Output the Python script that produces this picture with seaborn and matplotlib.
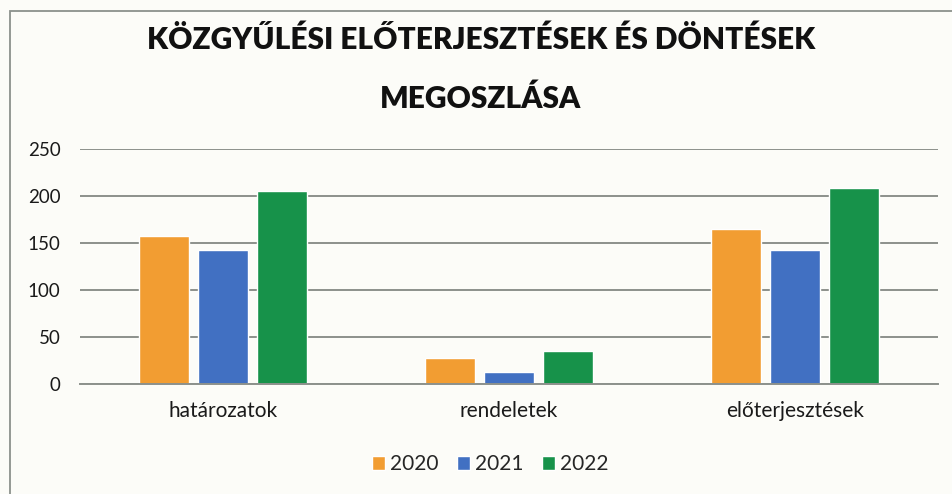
import pandas as pd
import seaborn as sns
import matplotlib.pyplot as plt
from matplotlib.patches import Rectangle

# Values
categories = ["határozatok", "rendeletek", "előterjesztések"]
years = ["2020", "2021", "2022"]
values_2020 = [157, 28, 165]
values_2021 = [143, 13, 143]
values_2022 = [205, 35, 208]

df = pd.DataFrame({
    "category": categories * 3,
    "year": [y for y in years for _ in categories],
    "count": values_2020 + values_2021 + values_2022,
})

palette = {"2020": "#F29D32", "2021": "#4170C2", "2022": "#17924A"}

sns.set_theme(style="white")
plt.rcParams["font.family"] = ["Lato", "DejaVu Sans"]

fig = plt.figure(figsize=(9.52, 4.94), dpi=100, facecolor="#fcfcf8")
ax = fig.add_axes([0.084, 0.2227, 0.901, 0.4757])
ax.set_facecolor("#fcfcf8")

sns.barplot(data=df, x="category", y="count", hue="year", order=categories,
            hue_order=years, palette=palette, width=0.62, gap=0.15,
            saturation=1, ax=ax, legend=True)

ax.set_ylim(0, 250)
ax.set_yticks([0, 50, 100, 150, 200, 250])
ax.yaxis.grid(True, color="#8c918c", linewidth=1.4)
ax.set_axisbelow(True)
for s in ["top", "right", "left"]:
    ax.spines[s].set_visible(False)
ax.spines["bottom"].set_color("#8c918c")
ax.spines["bottom"].set_linewidth(1.4)
ax.set_xlabel("")
ax.set_ylabel("")
ax.tick_params(axis="y", labelsize=13.5, colors="#1a1a1a", pad=14, length=0)
ax.tick_params(axis="x", labelsize=15, colors="#1a1a1a", pad=12, length=0)

handles, labels = ax.get_legend_handles_labels()
ax.legend_.remove()
fig.legend(handles, labels, loc="center", bbox_to_anchor=(0.515, 0.06),
           ncol=3, frameon=False, fontsize=15, handlelength=0.6,
           handleheight=0.6, handletextpad=0.25, columnspacing=0.9)

fig.text(0.505, 0.92, "KÖZGYŰLÉSI ELŐTERJESZTÉSEK ÉS DÖNTÉSEK", ha="center",
         va="center", fontsize=21.5, fontweight="heavy", color="#111111")
fig.text(0.505, 0.80, "MEGOSZLÁSA", ha="center", va="center", fontsize=21.5,
         fontweight="heavy", color="#111111")

# chart frame
fig.patches.append(Rectangle((0.011, -0.05), 1.2, 1.028, transform=fig.transFigure,
                             fill=False, edgecolor="#8c918c", linewidth=1.3))

fig.savefig("out.png", dpi=100, facecolor=fig.get_facecolor())
